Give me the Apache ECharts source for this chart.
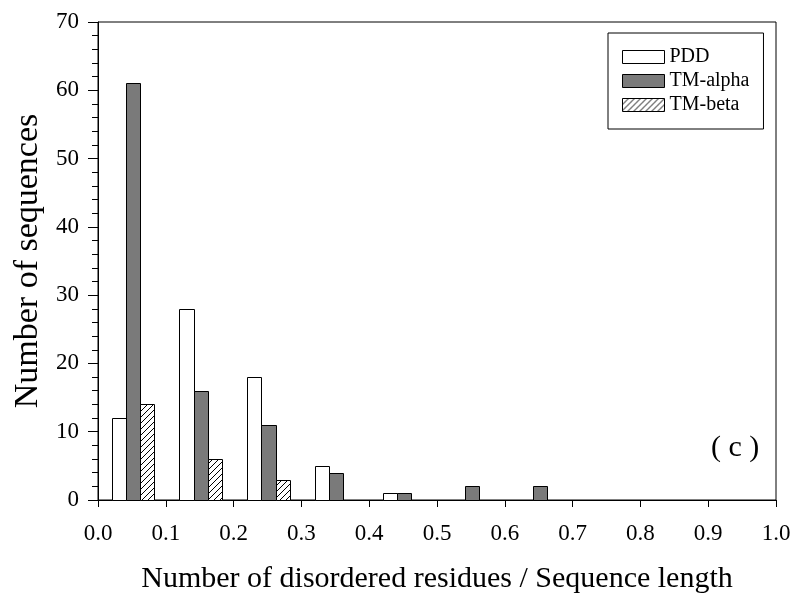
<!DOCTYPE html>
<html>
<head>
<meta charset="utf-8">
<script src="https://cdn.jsdelivr.net/npm/echarts@6/dist/echarts.min.js"></script>
<style>
html,body{margin:0;padding:0;background:#fff;}
#chart{width:800px;height:603px;}
</style>
</head>
<body>
<div id="chart"></div>
<script>
// ---- data ----
const binStarts = [0.0, 0.1, 0.2, 0.3, 0.4, 0.5, 0.6];
const pdd      = [12, 28, 18, 5, 1, 0, 0];
const tmAlpha  = [61, 16, 11, 4, 1, 2, 2];
const tmBeta   = [14, 6, 3, 0, 0, 0, 0];
const seriesNames = ['PDD', 'TM-alpha', 'TM-beta'];
const xAxisTitle = 'Number of disordered residues / Sequence length';
const yAxisTitle = 'Number of sequences';
const panelLabel = '( c )';

// ---- styling ----
const FONT = 'Liberation Serif, Times New Roman, serif';
function hatch() {
  const c = document.createElement('canvas');
  c.width = 6; c.height = 6;
  const g = c.getContext('2d');
  g.fillStyle = '#fff'; g.fillRect(0, 0, 6, 6);
  g.strokeStyle = '#000'; g.lineWidth = 1;
  g.beginPath();
  g.moveTo(-1, 7); g.lineTo(7, -1);
  g.moveTo(-1, 1); g.lineTo(1, -1);
  g.moveTo(5, 7); g.lineTo(7, 5);
  g.stroke();
  return c;
}
const hatchFill = { image: hatch(), repeat: 'repeat' };
const fills = ['#ffffff', '#7a7a7a', hatchFill];
const barOffset = 0.02, barW = 0.021;

function makeSeries(k, values) {
  return {
    name: seriesNames[k],
    type: 'custom',
    itemStyle: { color: fills[k], borderColor: '#000', borderWidth: 1 },
    data: binStarts.map((b, i) => [b, values[i]]),
    encode: { x: 0, y: 1 },
    renderItem: function (params, api) {
      const b = api.value(0), v = api.value(1);
      if (!v) return null;
      const x0 = b + barOffset + k * barW;
      const p1 = api.coord([x0, v]);
      const p2 = api.coord([x0 + barW, 0]);
      return {
        type: 'rect',
        shape: { x: Math.round(p1[0]) + 0.5, y: Math.round(p1[1]) + 0.5,
                 width: Math.round(p2[0]) - Math.round(p1[0]),
                 height: Math.round(p2[1]) - Math.round(p1[1]) },
        style: { fill: fills[k], stroke: '#000', lineWidth: 1 }
      };
    }
  };
}

const chart = echarts.init(document.getElementById('chart'), null, { renderer: 'canvas' });
chart.setOption({
  backgroundColor: '#fff',
  animation: false,
  textStyle: { fontFamily: FONT, color: '#000' },
  grid: { left: 98, right: 24, top: 22, bottom: 103, show: true, borderColor: '#000', borderWidth: 1, backgroundColor: 'transparent' },
  legend: {
    orient: 'vertical',
    left: 608, top: 33,
    padding: [14, 14, 14, 14],
    itemWidth: 42, itemHeight: 13, itemGap: 4,
    borderColor: '#000', borderWidth: 1,
    icon: 'rect',
    selectedMode: false,
    textStyle: { fontFamily: FONT, fontSize: 20, color: '#000' },
    data: seriesNames.map((n, k) => ({
      name: n,
      itemStyle: { color: fills[k], borderColor: '#000', borderWidth: 1 }
    }))
  },
  xAxis: {
    type: 'value', min: 0, max: 1, interval: 0.1,
    name: xAxisTitle, nameLocation: 'middle', nameGap: 64,
    nameTextStyle: { fontFamily: FONT, fontSize: 30, color: '#000' },
    axisLine: { show: true, lineStyle: { color: '#000', width: 1 } },
    axisTick: { show: true, length: 7, lineStyle: { color: '#000' } },
    axisLabel: { margin: 22, fontFamily: FONT, fontSize: 23, color: '#000', formatter: v => v.toFixed(1) },
    splitLine: { show: false }
  },
  yAxis: {
    type: 'value', min: 0, max: 70, interval: 10,
    name: yAxisTitle, nameLocation: 'middle', nameGap: 53,
    nameTextStyle: { fontFamily: FONT, fontSize: 34, color: '#000' },
    axisLine: { show: true, lineStyle: { color: '#000', width: 1 } },
    axisTick: { show: true, length: 10, lineStyle: { color: '#000' } },
    minorTick: { show: true, splitNumber: 5, length: 6, lineStyle: { color: '#000' } },
    axisLabel: { margin: 19, fontFamily: FONT, fontSize: 23, color: '#000' },
    splitLine: { show: false }
  },
  graphic: [{
    type: 'text', left: 711, top: 433,
    style: { text: panelLabel, fontFamily: FONT, fontSize: 30, fill: '#000' }
  }],
  series: [makeSeries(0, pdd), makeSeries(1, tmAlpha), makeSeries(2, tmBeta)]
});
</script>
</body>
</html>
